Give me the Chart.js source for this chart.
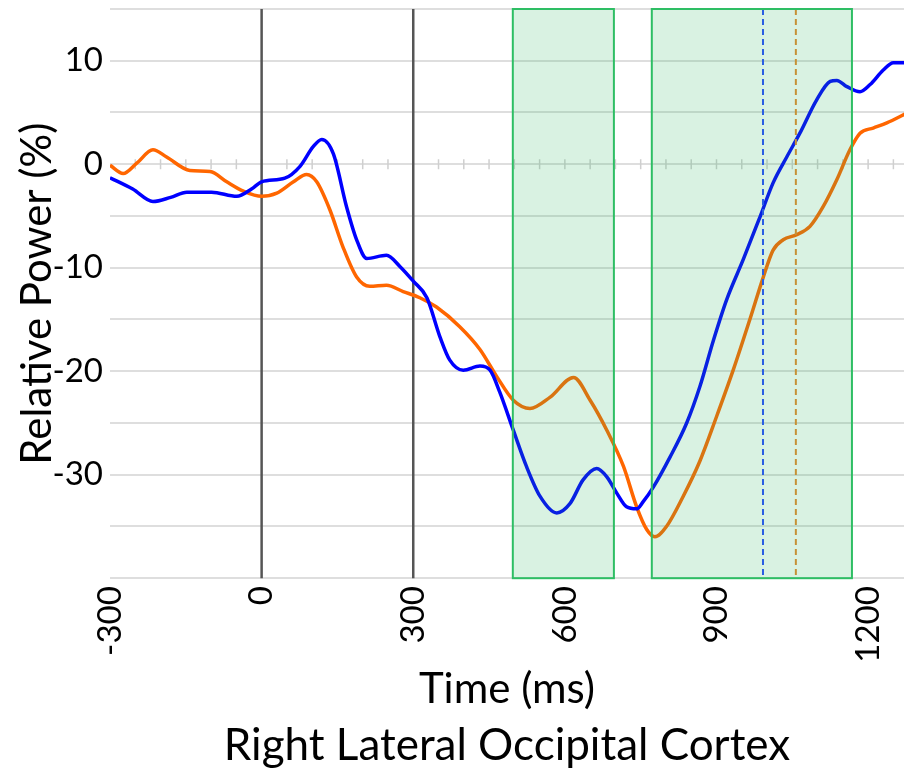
<!DOCTYPE html>
<html>
<head>
<meta charset="utf-8">
<script src="https://cdn.jsdelivr.net/npm/chart.js@4.4.1/dist/chart.umd.min.js"></script>
<style>
  html, body { margin: 0; padding: 0; background: #fff; }
</style>
</head>
<body>
<canvas id="powerChart" width="904" height="768"></canvas>
<script>
// blue condition (ms, % change)
var blueTimes = [-300, -255, -215, -180, -148, -99, -49, -20, 0, 46, 76, 102, 119, 142, 168, 188, 208, 247, 274, 300, 327, 353, 372, 399, 432, 452, 471, 498, 524, 551, 584, 610, 636, 663, 683, 703, 722, 742, 755, 775, 808, 841, 867, 894, 920, 953, 986, 1012, 1039, 1065, 1098, 1125, 1138, 1158, 1184, 1204, 1230, 1250, 1275]
var blueValues = [-1.3, -2.4, -3.6, -3.2, -2.7, -2.7, -3.1, -2.4, -1.7, -1.35, -0.2, 1.7, 2.4, 1.0, -4.1, -7.3, -9.1, -8.8, -9.9, -11.3, -12.9, -16.7, -18.9, -19.9, -19.5, -19.9, -22.0, -25.7, -29.2, -32.1, -33.7, -32.8, -30.5, -29.4, -30.2, -31.8, -33.1, -33.3, -32.6, -31.2, -28.3, -25.0, -21.5, -17.0, -13.1, -9.2, -5.1, -1.8, 0.7, 3.0, 6.2, 8.0, 8.1, 7.5, 7.0, 7.7, 9.1, 9.8, 9.8]

// orange condition
var orangeTimes = [-300, -274, -247, -215, -188, -142, -102, -69, -36, 0, 30, 63, 89, 109, 135, 161, 188, 214, 247, 280, 313, 346, 392, 432, 465, 498, 531, 571, 617, 650, 683, 716, 742, 762, 778, 801, 834, 867, 900, 933, 966, 992, 1012, 1032, 1059, 1085, 1111, 1138, 1164, 1184, 1210, 1237, 1275]
var orangeValues = [-0.1, -0.9, 0.1, 1.4, 0.7, -0.6, -0.7, -1.7, -2.6, -3.1, -2.8, -1.7, -1.0, -1.7, -4.4, -8.0, -10.9, -11.8, -11.7, -12.3, -12.9, -13.8, -15.7, -17.9, -20.5, -22.8, -23.6, -22.5, -20.6, -22.8, -25.7, -29.2, -33.1, -35.3, -36.0, -35.0, -32.1, -28.7, -24.4, -19.9, -15.0, -11.0, -8.3, -7.3, -6.8, -6.0, -4.1, -1.5, 1.4, 3.0, 3.5, 4.0, 4.9]

var xTicks = [-300, 0, 300, 600, 900, 1200]
var yLabels = [10, 0, -10, -20, -30]
var eventTimes = [0, 300]
var windowStarts = [497, 772]
var windowEnds = [697, 1168]
var blueOnset = 992
var orangeOnset = 1057
var minorTickStep = 50

Chart.defaults.font.family = 'Lato'
Chart.defaults.color = '#000'

function toPoints (times, values) {
  return times.map(function (t, i) {
    return { x: t, y: values[i] }
  })
}

var overlays = {
  id: 'overlays',
  beforeDatasetsDraw: function (chart) {
    var ctx = chart.ctx
    var area = chart.chartArea
    var xs = chart.scales.x
    var ys = chart.scales.y
    var y0 = ys.getPixelForValue(0)
    ctx.save()
    // small ticks along the zero line
    ctx.strokeStyle = '#cfcfcf'
    ctx.lineWidth = 1.5
    for (var t = xs.min + minorTickStep; t < xs.max; t += minorTickStep) {
      var px = xs.getPixelForValue(t)
      ctx.beginPath()
      ctx.moveTo(px, y0 - 5)
      ctx.lineTo(px, y0 + 5)
      ctx.stroke()
    }
    // stimulus events
    ctx.strokeStyle = '#555'
    ctx.lineWidth = 2.5
    eventTimes.forEach(function (t) {
      var px = xs.getPixelForValue(t)
      ctx.beginPath()
      ctx.moveTo(px, area.top)
      ctx.lineTo(px, area.bottom)
      ctx.stroke()
    })
    ctx.restore()
  },
  afterDatasetsDraw: function (chart) {
    var ctx = chart.ctx
    var area = chart.chartArea
    var xs = chart.scales.x
    ctx.save()
    ctx.setLineDash([6, 4])
    ctx.lineWidth = 2
    ;[[blueOnset, '#2a4bff'], [orangeOnset, '#e8892c']].forEach(function (d) {
      var px = xs.getPixelForValue(d[0])
      ctx.strokeStyle = d[1]
      ctx.beginPath()
      ctx.moveTo(px, area.top)
      ctx.lineTo(px, area.bottom)
      ctx.stroke()
    })
    ctx.setLineDash([])
    // significance windows
    windowStarts.forEach(function (s, i) {
      var x1 = xs.getPixelForValue(s)
      var x2 = xs.getPixelForValue(windowEnds[i])
      ctx.fillStyle = 'rgba(46, 184, 92, 0.18)'
      ctx.fillRect(x1, area.top, x2 - x1, area.bottom - area.top)
      ctx.strokeStyle = 'rgb(46, 190, 100)'
      ctx.lineWidth = 2
      ctx.strokeRect(x1, area.top, x2 - x1, area.bottom - area.top)
    })
    ctx.restore()
  }
}

var ctx = document.getElementById('powerChart').getContext('2d')

var powerChart = new Chart(ctx, {
  type: 'line',
  data: {
    datasets: [
      {
        label: 'Blue',
        data: toPoints(blueTimes, blueValues),
        borderColor: '#0000ff',
        borderWidth: 3.5,
        pointRadius: 0,
        cubicInterpolationMode: 'monotone',
        fill: false
      },
      {
        label: 'Orange',
        data: toPoints(orangeTimes, orangeValues),
        borderColor: '#ff6600',
        borderWidth: 3.5,
        pointRadius: 0,
        cubicInterpolationMode: 'monotone',
        fill: false
      }
    ]
  },
  options: {
    responsive: false,
    animation: false,
    layout: {
      padding: { top: 9, right: 0, bottom: 0, left: 0 }
    },
    plugins: {
      legend: { display: false },
      tooltip: { enabled: false },
      title: {
        display: true,
        position: 'bottom',
        fullSize: false,
        text: 'Right Lateral Occipital Cortex',
        font: { size: 44, weight: 'normal' },
        color: '#000',
        padding: { top: 4, bottom: -4 }
      }
    },
    scales: {
      x: {
        type: 'linear',
        min: -300,
        max: 1271,
        grid: { display: false, drawTicks: false },
        border: { display: false },
        afterBuildTicks: function (scale) {
          scale.ticks = xTicks.map(function (v) { return { value: v } })
        },
        afterFit: function (scale) {
          scale.height = 137
          scale.paddingLeft = 0
          scale.paddingRight = 0
        },
        ticks: {
          minRotation: 90,
          maxRotation: 90,
          padding: 8,
          font: { size: 33 },
          color: '#000',
          callback: function (v) { return String(v) }
        },
        title: {
          display: true,
          text: 'Time (ms)',
          font: { size: 42 },
          color: '#000',
          padding: { top: 0, bottom: 1 }
        }
      },
      y: {
        min: -40,
        max: 15,
        grid: { color: '#dedede', lineWidth: 2, drawTicks: false },
        border: { display: false },
        afterFit: function (scale) {
          scale.width = 110
          scale.paddingTop = 0
          scale.paddingBottom = 0
        },
        ticks: {
          stepSize: 5,
          padding: 7,
          font: { size: 33 },
          color: '#000',
          callback: function (v) {
            return yLabels.indexOf(v) >= 0 ? String(v) : ''
          }
        },
        title: {
          display: true,
          text: 'Relative Power (%)',
          font: { size: 42 },
          color: '#000',
          padding: { top: 12, bottom: 0 }
        }
      }
    }
  },
  plugins: [overlays]
})
</script>
</body>
</html>
